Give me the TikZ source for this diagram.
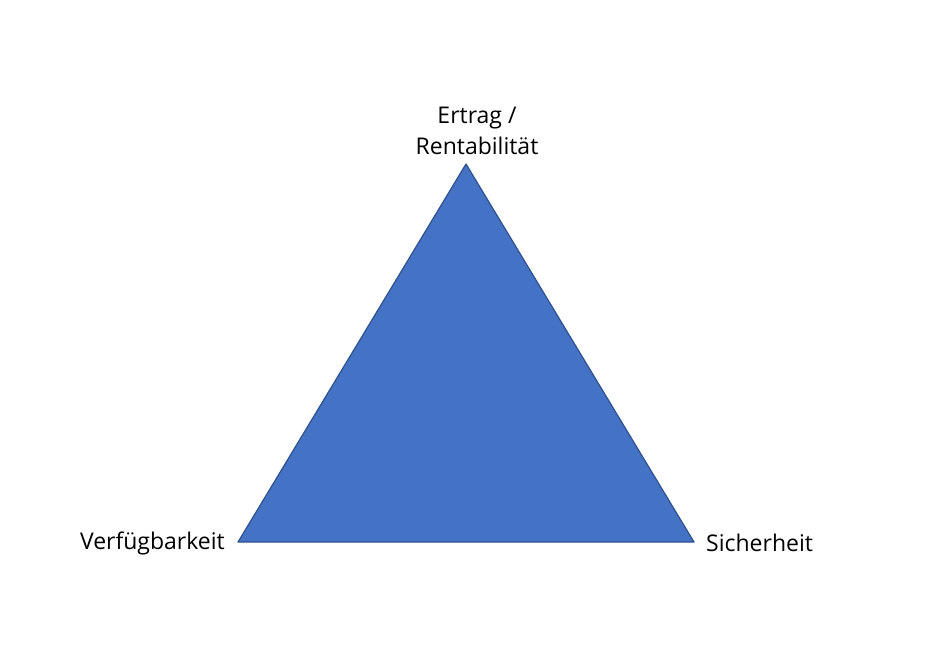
\documentclass[tikz,border=0pt]{standalone}
\usepackage{fontspec}
\setmainfont{Open Sans}
\usepackage{tikz}

\begin{document}
\begin{tikzpicture}[x=1pt,y=-1pt]
        \useasboundingbox (0,0) rectangle (949,651);
        \begin{scope}[every node/.style={inner sep=0pt,font=\fontsize{23}{31}\selectfont}]
                \coordinate (T) at (466,164);
                \coordinate (L) at (238,542);
                \coordinate (R) at (694,542);
                \node [align=center, anchor=south] (top) at (477,155) {Ertrag /\\Rentabilität};
                \node [anchor=east] (left) at (225,543) {Verfügbarkeit};
                \node [anchor=west] (right) at (706,543) {Sicherheit};
        \end{scope}

        \filldraw [fill={rgb,255:red,68;green,114;blue,196}, draw={rgb,255:red,47;green,82;blue,143}, line width=1.2pt, line join=round] (T) -- (R) -- (L) -- cycle;
\end{tikzpicture}
\end{document}
